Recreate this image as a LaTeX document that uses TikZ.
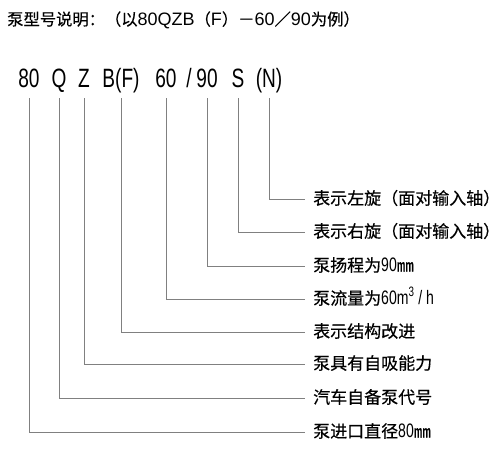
\documentclass[tikz,border=0pt]{standalone}
\usepackage{fontspec}
\setmainfont[FakeBold=0.4]{Noto Sans CJK SC}
\newfontfamily\labelfont[FakeBold=0.4]{Noto Sans CJK SC}
\newfontfamily\latinfont{Liberation Sans}
\newfontfamily\codefont[FakeStretch=0.72]{Liberation Sans}
\newcommand{\lat}[1]{{\latinfont\fontsize{18pt}{18pt}\selectfont #1}}
\newcommand{\narrowtxt}[1]{{\codefont\fontsize{19.5pt}{19.5pt}\selectfont #1}}
\tikzset{
    titletxt/.style={anchor=west, inner sep=0pt, font=\fontsize{16.3pt}{16.3pt}\selectfont},
    codetok/.style={anchor=base, inner xsep=0pt, inner ysep=0pt, text depth=11pt, font=\codefont\fontsize{26.5pt}{26.5pt}\selectfont},
    labeltxt/.style={anchor=west, inner xsep=8pt, inner ysep=0pt, text height=14pt, text depth=3pt, font=\labelfont\fontsize{17pt}{17pt}\selectfont},
    leader/.style={draw=black!50, line width=1pt}
}
\begin{document}
\begin{tikzpicture}[x=1pt, y=-1pt]
  \useasboundingbox (0,0) rectangle (500,450);
  \node[titletxt] (title) at (7, 20) {泵型号说明：（以\lat{80QZB}（\lat{F}）－\lat{60}／\lat{90}为例）};
  % model code
  \node[codetok] (c80) at (29, 87) {80};
  \node[codetok] (cQ) at (59, 87) {Q};
  \node[codetok] (cZ) at (84, 87) {Z};
  \node[codetok] (cB) at (121, 87) {B(F)};
  \node[codetok] (c60) at (166, 87) {60};
  \node[codetok] (cSl) at (189, 87) {/};
  \node[codetok] (c90) at (207, 87) {90};
  \node[codetok] (cS) at (238, 87) {S};
  \node[codetok] (cN) at (269, 87) {(N)};
  % explanations
  \node[labeltxt] (lN) at (305, 199) {表示左旋（面对输入轴）};
  \node[labeltxt] (lS) at (305, 232) {表示右旋（面对输入轴）};
  \node[labeltxt] (l90) at (305, 266) {泵扬程为\narrowtxt{90}㎜};
  \node[labeltxt] (l60) at (305, 299) {泵流量为\narrowtxt{60m\textsuperscript{3} / h}};
  \node[labeltxt] (lB) at (305, 332) {表示结构改进};
  \node[labeltxt] (lZ) at (305, 364) {泵具有自吸能力};
  \node[labeltxt] (lQ) at (305, 398) {汽车自备泵代号};
  \node[labeltxt] (l80) at (305, 432) {泵进口直径\narrowtxt{80}㎜};
  \draw[leader] (cN.south) |- (lN.west);
  \draw[leader] (cS.south) |- (lS.west);
  \draw[leader] (c90.south) |- (l90.west);
  \draw[leader] (c60.south) |- (l60.west);
  \draw[leader] (cB.south) |- (lB.west);
  \draw[leader] (cZ.south) |- (lZ.west);
  \draw[leader] (cQ.south) |- (lQ.west);
  \draw[leader] (c80.south) |- (l80.west);
\end{tikzpicture}
\end{document}
